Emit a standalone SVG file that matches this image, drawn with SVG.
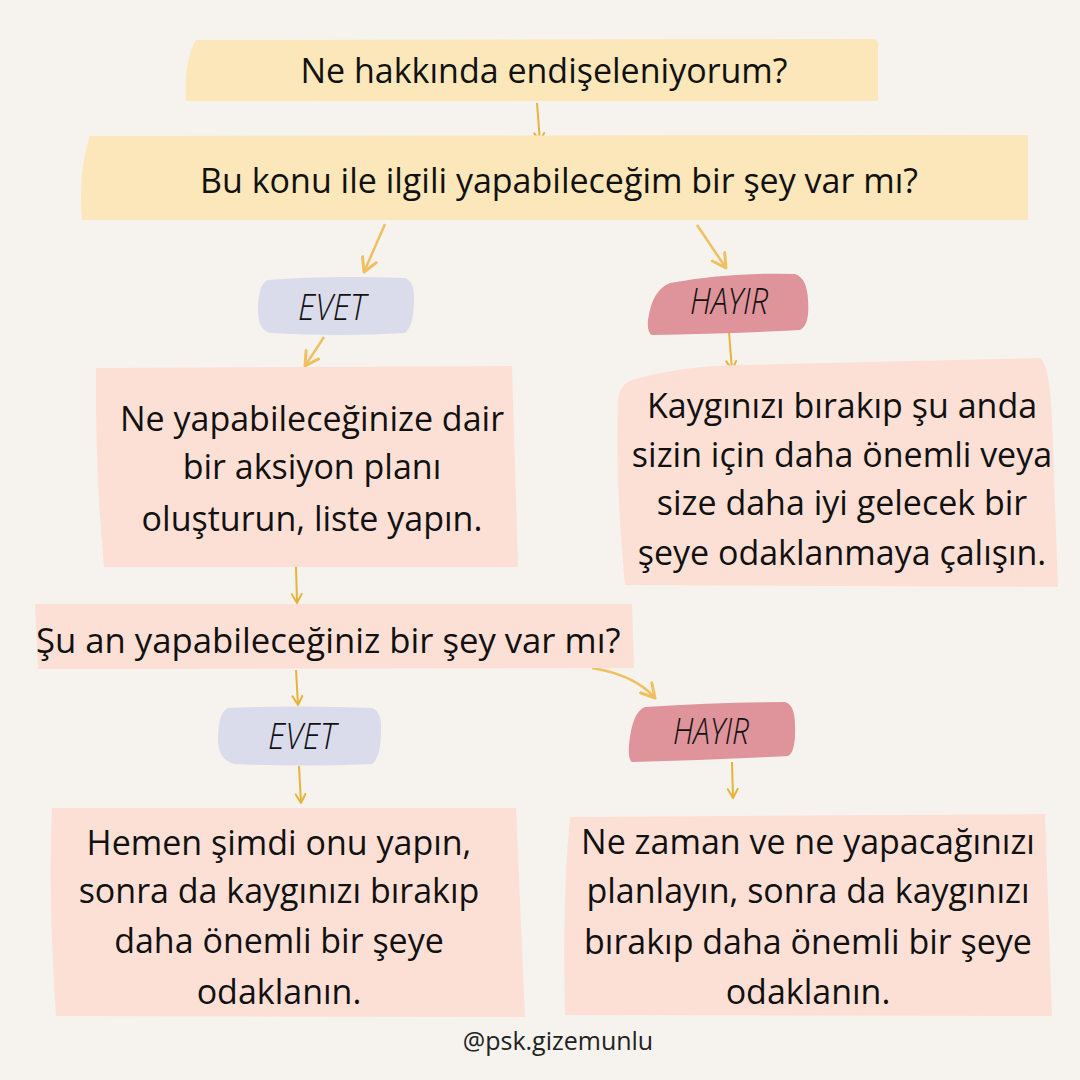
<svg xmlns="http://www.w3.org/2000/svg" width="1080" height="1080" viewBox="0 0 1080 1080">
<defs>
<marker id="ah" viewBox="0 0 12 12" refX="10" refY="6" markerWidth="12" markerHeight="12" markerUnits="userSpaceOnUse" orient="auto">
<path d="M1,1 L10,6 L1,11" fill="none" stroke="#e8b33a" stroke-width="2" stroke-linecap="round" stroke-linejoin="round"/>
</marker>
<marker id="ah2" viewBox="0 0 12 12" refX="10" refY="6" markerWidth="18" markerHeight="18" markerUnits="userSpaceOnUse" orient="auto">
<path d="M1,1 L10,6 L1,11" fill="none" stroke="#f0c060" stroke-width="2" stroke-linecap="round" stroke-linejoin="round"/>
</marker>
</defs>
<style>
.bg{fill:#f6f3ee}
.yel{fill:#fbe7b9}
.pch{fill:#fde0d5}
.lav{fill:#dadbeb}
.pnk{fill:#df939a}
.t{font-family:"Open Sans","Liberation Sans",sans-serif;fill:#111;font-size:34px;text-anchor:middle}
.lbl{font-family:"Open Sans","Liberation Sans",sans-serif;font-style:italic;font-weight:300;fill:#111;font-size:36px;text-anchor:middle}
.foot{font-family:"Open Sans","Liberation Sans",sans-serif;fill:#222;font-size:25px;text-anchor:middle}
.c{fill:none;stroke:#e8b33a;stroke-width:2;marker-end:url(#ah)}
.c2{fill:none;stroke:#f0c060;stroke-width:2.5;marker-end:url(#ah2)}
</style>
<rect class="bg" width="1080" height="1080"/>

<g id="connectors">
<path class="c" d="M537,103 L540,142"/>
<path class="c2" d="M385,224 L364,272"/>
<path class="c2" d="M697,225 L726,268"/>
<path class="c2" d="M324,337 L305,366"/>
<path class="c" d="M729,332 L732,370"/>
<path class="c" d="M296,567 L297,603"/>
<path class="c" d="M296,670 L298,705"/>
<path class="c2" d="M592,668 Q635,675 655,698"/>
<path class="c" d="M299,766 L301,803"/>
<path class="c" d="M732,762 L733,798"/>
</g>

<g id="q1">
<path class="yel" d="M196,40 L874,39 Q879,40 878,48 L878,101 L186,101 Q184,60 196,40 Z"/>
<text class="t" x="544" y="83">Ne hakkında endişeleniyorum?</text>
</g>

<g id="q2">
<path class="yel" d="M90,136 L1028,135 L1028,220 L82,220 Q78,170 90,136 Z"/>
<text class="t" x="559" y="193">Bu konu ile ilgili yapabileceğim bir şey var mı?</text>
</g>

<g id="evet1">
<path class="lav" d="M268,280 Q330,275 405,278 Q415,282 414,300 Q414,325 405,333 Q340,337 270,333 Q258,330 258,310 Q258,284 268,280 Z"/>
<text class="lbl" x="332" y="320" textLength="68" lengthAdjust="spacingAndGlyphs">EVET</text>
</g>

<g id="hayir1">
<path class="pnk" d="M670,283 Q730,272 795,274 Q807,278 808,300 Q810,325 800,330 Q720,334 652,335 Q647,333 648,320 Q652,290 670,283 Z"/>
<text class="lbl" x="729" y="314" textLength="78" lengthAdjust="spacingAndGlyphs">HAYIR</text>
</g>

<g id="plan">
<path class="pch" d="M96,368 L512,366 L518,567 L104,567 Q95,470 96,368 Z"/>
<text class="t" x="312" y="431">Ne yapabileceğinize dair</text>
<text class="t" x="312" y="479">bir aksiyon planı</text>
<text class="t" x="312" y="531">oluşturun, liste yapın.</text>
</g>

<g id="birak">
<path class="pch" d="M632,380 Q680,366 740,365 L1040,358 Q1050,365 1052,420 L1058,587 L625,585 Q615,480 618,400 Q620,384 632,380 Z"/>
<text class="t" x="842" y="418">Kaygınızı bırakıp şu anda</text>
<text class="t" x="842" y="467">sizin için daha önemli veya</text>
<text class="t" x="842" y="515">size daha iyi gelecek bir</text>
<text class="t" x="842" y="565">şeye odaklanmaya çalışın.</text>
</g>

<g id="q3">
<path class="pch" d="M35,604 L632,604 L634,668 L38,669 Z"/>
<text class="t" x="36" y="653" style="text-anchor:start;font-size:34.7px">Şu an yapabileceğiniz bir şey var mı?</text>
</g>

<g id="evet2">
<path class="lav" d="M228,708 Q300,705 372,708 Q382,712 381,730 Q381,757 372,764 Q300,767 235,764 Q218,760 218,740 Q218,712 228,708 Z"/>
<text class="lbl" x="302" y="749" textLength="68" lengthAdjust="spacingAndGlyphs">EVET</text>
</g>

<g id="hayir2">
<path class="pnk" d="M645,707 Q720,702 785,702 Q795,705 795,725 Q796,752 788,756 Q710,760 632,762 Q628,760 629,745 Q632,712 645,707 Z"/>
<text class="lbl" x="711" y="744" textLength="76" lengthAdjust="spacingAndGlyphs">HAYIR</text>
</g>

<g id="simdi">
<path class="pch" d="M52,808 L516,808 L525,1017 L56,1016 Q48,900 52,808 Z"/>
<text class="t" x="279" y="855">Hemen şimdi onu yapın,</text>
<text class="t" x="279" y="903">sonra da kaygınızı bırakıp</text>
<text class="t" x="279" y="953">daha önemli bir şeye</text>
<text class="t" x="279" y="1004">odaklanın.</text>
</g>

<g id="planla">
<path class="pch" d="M570,817 L1045,814 L1052,1016 L565,1015 Q562,900 570,817 Z"/>
<text class="t" x="808" y="854">Ne zaman ve ne yapacağınızı</text>
<text class="t" x="808" y="903">planlayın, sonra da kaygınızı</text>
<text class="t" x="808" y="954">bırakıp daha önemli bir şeye</text>
<text class="t" x="808" y="1004">odaklanın.</text>
</g>

<text class="foot" x="558" y="1050">@psk.gizemunlu</text>
</svg>
